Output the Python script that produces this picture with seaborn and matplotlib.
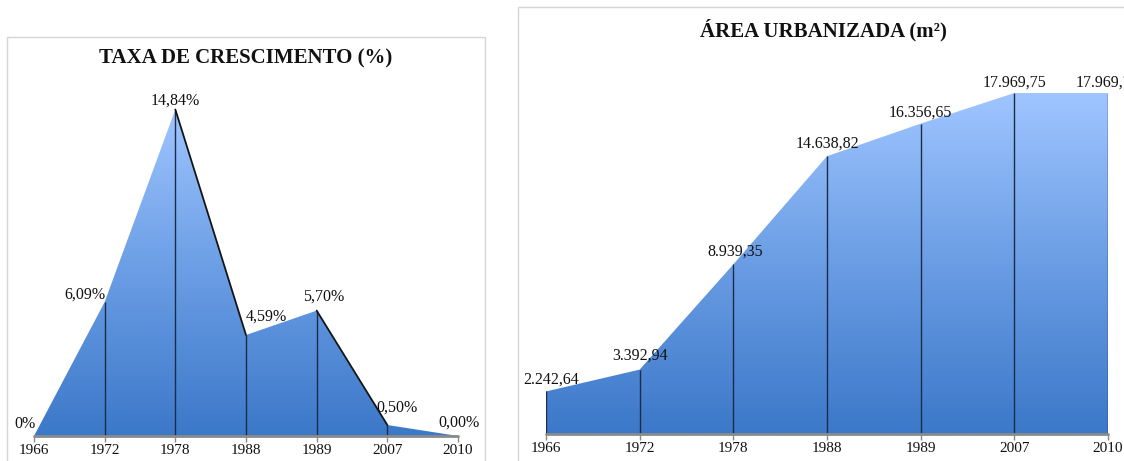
import numpy as np
import pandas as pd
import matplotlib
matplotlib.use("Agg")
import matplotlib.pyplot as plt
from matplotlib.colors import LinearSegmentedColormap
from matplotlib.patches import Rectangle
import seaborn as sns

# Data
years = ['1966', '1972', '1978', '1988', '1989', '2007', '2010']
growth_rate = [0.0, 6.09, 14.84, 4.59, 5.70, 0.50, 0.00]
growth_labels = ['0%', '6,09%', '14,84%', '4,59%', '5,70%', '0,50%', '0,00%']
urban_area = [2242.64, 3392.94, 8939.35, 14638.82, 16356.65, 17969.75, 17969.75]
area_labels = ['2.242,64', '3.392,94', '8.939,35', '14.638,82', '16.356,65',
               '17.969,75', '17.969,75']

W, H = 1124, 461

sns.set_theme(style="white")
plt.rcParams['font.family'] = ['Liberation Serif', 'DejaVu Serif']

blue_cmap = LinearSegmentedColormap.from_list('area_blue', ['#3c78c9', '#6a9de4', '#9fc5ff'])


def px_axes(fig, x0, x1, y_base, y_top):
    # axes placed by pixel coordinates (y measured from top of image)
    return fig.add_axes([x0 / W, (H - y_base) / H, (x1 - x0) / W, (y_base - y_top) / H])


def draw_area(ax, values, labels, offsets, ymax, dark_edges):
    x = np.arange(len(values))
    df = pd.DataFrame({'pos': x, 'val': values})

    poly = ax.fill_between(df['pos'], df['val'], 0, color='none', lw=0)
    grad = np.linspace(0, 1, 256).reshape(-1, 1)
    im = ax.imshow(grad, extent=(0, len(values) - 1, 0, max(values)), origin='lower',
                   aspect='auto', cmap=blue_cmap, zorder=1, interpolation='bilinear')
    im.set_clip_path(poly.get_paths()[0], transform=ax.transData)

    # dark edges on some segments of the outline
    for i in dark_edges:
        sns.lineplot(data=df.iloc[i:i + 2], x='pos', y='val', ax=ax, color='#151515',
                     lw=1.3, zorder=4)

    # drop lines
    ax.vlines(df['pos'], 0, df['val'], color='#1c2c48', lw=1, zorder=3)
    ax.axhline(0, color='#8a8a8a', lw=2, zorder=5, clip_on=False)

    for xi, v, lab, (dx, dy) in zip(x, values, labels, offsets):
        ax.annotate(lab, (xi, v), xytext=(dx, dy), textcoords='offset pixels',
                    ha='center', va='center', fontsize=11.5, color='#111111',
                    annotation_clip=False, zorder=6)

    ax.set_xlim(0, len(values) - 1)
    ax.set_ylim(0, ymax)
    ax.set_xticks(x, years)
    ax.set_yticks([])
    ax.tick_params(axis='x', bottom=True, length=4, width=1, color='#8a8a8a',
                   labelsize=11, pad=2, labelcolor='#111111')
    ax.set_xlabel('')
    ax.set_ylabel('')
    for s in ax.spines.values():
        s.set_visible(False)
    ax.patch.set_alpha(0)


fig = plt.figure(figsize=(W / 100, H / 100), dpi=100)
fig.patch.set_facecolor('white')

# panel borders
fig.patches.append(Rectangle((7 / W, -0.02), (485 - 7) / W, (H - 37) / H + 0.02,
                             transform=fig.transFigure, fill=False, ec='#d6d6d6', lw=1))
fig.patches.append(Rectangle((518 / W, -0.02), (W - 518 + 10) / W, (H - 7) / H + 0.02,
                             transform=fig.transFigure, fill=False, ec='#d6d6d6', lw=1))

# left: growth rate
ax1 = px_axes(fig, 34, 458, 436, 73)
left_offsets = [(-9, 12), (-20, 7), (0, 9), (20, 18), (7, 14), (10, 17), (1, 13)]
draw_area(ax1, growth_rate, growth_labels, left_offsets, 16.5, dark_edges=[2, 4])
fig.text(246 / W, 1 - 58 / H, 'TAXA DE CRESCIMENTO (%)', ha='center', va='center',
         fontsize=15, fontweight='bold', color='#111111')

# right: urbanized area
ax2 = px_axes(fig, 546, 1108, 434, 54.5)
right_offsets = [(5, 12), (0, 14), (2, 13), (0, 13), (0, 11), (0, 10), (0, 10)]
draw_area(ax2, urban_area, area_labels, right_offsets, 20000, dark_edges=[])
fig.text(823 / W, 1 - 30 / H, 'ÁREA URBANIZADA (m²)', ha='center', va='center',
         fontsize=15, fontweight='bold', color='#111111')

fig.savefig('out.png', dpi=100)
